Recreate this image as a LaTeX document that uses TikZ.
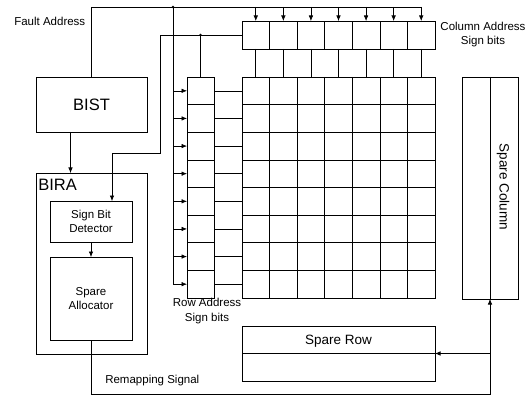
\documentclass[tikz,border=0pt]{standalone}
\usepackage{fontspec}
\setmainfont{Liberation Sans}
\usetikzlibrary{arrows.meta,positioning,calc}

\begin{document}
\begin{tikzpicture}[
  x=1pt,y=-1pt,
  line width=0.6pt,
  box/.style={draw,inner sep=0pt,outer sep=0pt},
  cbit/.style={box,minimum width=27.571pt,minimum height=28pt},
  rbit/.style={box,minimum width=27pt,minimum height=27.625pt},
  lbl/.style={font=\fontsize{11.5}{14.5}\selectfont,align=center,inner sep=0pt},
  big/.style={font=\fontsize{16.5}{18}\selectfont},
  mid/.style={font=\fontsize{13.5}{15}\selectfont,inner sep=0pt},
  arr/.style={-{Latex[length=5.5pt,width=4.5pt]}},
  dot/.style={circle,fill,inner sep=0pt,minimum size=2.6pt}
]
\useasboundingbox (0,0) rectangle (531,396);

\node[box,minimum width=111pt,minimum height=55pt,big] (bist) at (91.5,104.5) {BIST};
\node[box,minimum width=111pt,minimum height=181pt] (bira) at (91.5,263.5) {};
\node[big,anchor=base west,inner sep=0pt] (biralbl) at (38,190) {BIRA};
\node[box,minimum width=82pt,minimum height=41pt,lbl] (det) at (91,221.5) {Sign Bit\\Detector};
\node[box,minimum width=82pt,minimum height=83pt,lbl] (alloc) at (91,298.5) {Spare\\Allocator};

\foreach \i in {1,...,7}
  \node[cbit] (cb\i) at ({242+(\i-0.5)*27.571},35) {};
\foreach \j in {1,...,8}
  \node[rbit] (rb\j) at (200.5,{77+(\j-0.5)*27.625}) {};

\node[box,minimum width=193pt,minimum height=221pt] (grid) at (338.5,187.5) {};
\foreach \i in {1,...,6}
  \draw ($(grid.north west)+(\i*27.571,0)$) -- ($(grid.south west)+(\i*27.571,0)$);
\foreach \j in {1,...,7}
  \draw ($(grid.north west)+(0,\j*27.625)$) -- ($(grid.north east)+(0,\j*27.625)$);

\node[box,minimum width=56pt,minimum height=222pt] (scol) at (490,188) {};
\draw (scol.north) -- (scol.south);
\node[mid,rotate=-90] (scollbl) at (503,187) {Spare Column};
\node[box,minimum width=193pt,minimum height=55pt] (srow) at (338.5,353.5) {};
\draw (srow.west) -- (srow.east);
\node[mid] (srowlbl) at (338.5,341) {Spare Row};

\node[lbl,anchor=west] (faddr) at (14,21) {Fault Address};
\node[lbl] (clbl) at (483,34.5) {Column Address\\Sign bits};
\node[lbl] (rlbl) at (207,311) {Row Address\\Sign bits};
\node[lbl,anchor=west] (remlbl) at (105,381) {Remapping Signal};

\coordinate (ftop) at (421,7);
\coordinate (rtop) at (173,7);
\draw (bist.north) |- (ftop);
\foreach \i in {1,...,7}
  \draw[arr] (cb\i.north |- ftop) -- (cb\i.north);
\draw (rtop) -- (rtop |- rb8.west);
\foreach \j in {1,...,8}
  \draw[arr] (rb\j.west -| rtop) -- (rb\j.west);
\node[dot] (jn1) at (rtop) {};

\coordinate (kneeA) at (160,153);
\coordinate (kneeB) at (112,153);
\draw[arr] (cb1.west) -| (kneeA) -- (kneeB) -- (kneeB |- det.north);
\coordinate (rjoin) at (rb1.north |- cb1.west);
\draw (rjoin) -- (rb1.north);
\node[dot] (jn2) at (rjoin) {};

\foreach \i in {1,...,7}
  \draw (cb\i.south) -- (cb\i.south |- grid.north);
\foreach \j in {1,...,8}
  \draw (rb\j.east) -- (rb\j.east -| grid.west);

\draw[arr] ([xshift=-21pt]bist.south) -- ([xshift=-21pt]bira.north);
\draw[arr] (det.south) -- (alloc.north);
\coordinate (remap) at (490,394);
\draw[arr] (alloc.south) |- (remap) -- (scol.south);
\draw[arr] (srow.east -| remap) -- (srow.east);
\end{tikzpicture}
\end{document}
